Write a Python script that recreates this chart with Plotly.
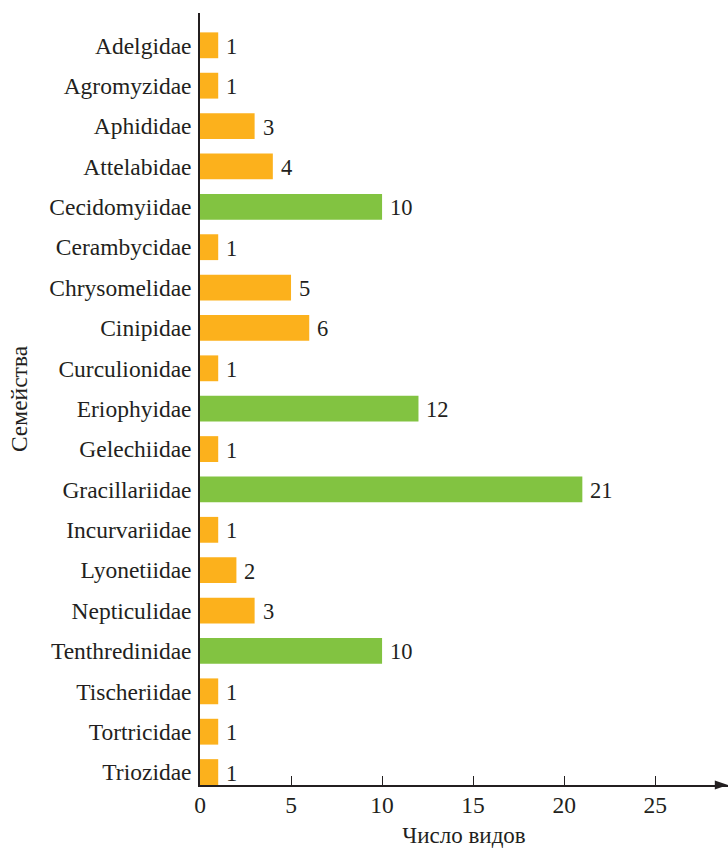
import plotly.graph_objects as go

families = ["Adelgidae", "Agromyzidae", "Aphididae", "Attelabidae", "Cecidomyiidae",
            "Cerambycidae", "Chrysomelidae", "Cinipidae", "Curculionidae", "Eriophyidae",
            "Gelechiidae", "Gracillariidae", "Incurvariidae", "Lyonetiidae", "Nepticulidae",
            "Tenthredinidae", "Tischeriidae", "Tortricidae", "Triozidae"]
species_count = [1, 1, 3, 4, 10, 1, 5, 6, 1, 12, 1, 21, 1, 2, 3, 10, 1, 1, 1]
x_ticks = [0, 5, 10, 15, 20, 25]

ORANGE = "#FCB11C"
GREEN = "#82C341"
colors = [GREEN if v >= 10 else ORANGE for v in species_count]

FONT = "Liberation Serif"
TXT = "#231F20"
FS = 23.5

fig = go.Figure(go.Bar(
    y=families, x=species_count, orientation="h",
    marker=dict(color=colors, line=dict(width=0)),
    hoverinfo="x+y",
))

for fam, v in zip(families, species_count):
    fig.add_annotation(x=v, y=fam, xref="x", yref="y", text=str(v), showarrow=False,
                       xanchor="left", yanchor="middle", xshift=6, yshift=-1,
                       font=dict(family=FONT, size=22.5, color=TXT))

fig.update_layout(
    width=728, height=850,
    margin=dict(l=200, r=0, t=13, b=65, autoexpand=False),
    paper_bgcolor="white", plot_bgcolor="white",
    font=dict(family=FONT, size=FS, color=TXT),
    bargap=0.36, showlegend=False,
    xaxis=dict(range=[0, 29], tickvals=x_ticks, ticks="inside", ticklen=9,
               tickwidth=1.3, tickcolor=TXT, showline=True, linecolor=TXT, linewidth=1.5,
               showgrid=False, zeroline=False, automargin=False, ticklabelstandoff=-2,
               tickfont=dict(family=FONT, size=FS, color=TXT),
               title=dict(text="Число видов", font=dict(family=FONT, size=23, color=TXT), standoff=10)),
    yaxis=dict(categoryorder="array", categoryarray=families, range=[18.32, -0.8],
               showline=True, linecolor=TXT, linewidth=1.5, ticks="", showgrid=False,
               zeroline=False, ticklabelstandoff=2, automargin=False,
               tickfont=dict(family=FONT, size=FS, color=TXT),
               title=dict(text="Семейства", font=dict(family=FONT, size=FS, color=TXT), standoff=15)),
)

# arrowhead at the end of the x axis
fig.add_shape(type="path", xref="paper", yref="paper",
              path="M 1 0 L 0.975 0.0058 L 0.975 -0.0058 Z",
              fillcolor=TXT, line=dict(width=0), layer="above")

fig.write_html("out.html", config={"displayModeBar": False},
               post_script="document.body.style.margin='0px';")
